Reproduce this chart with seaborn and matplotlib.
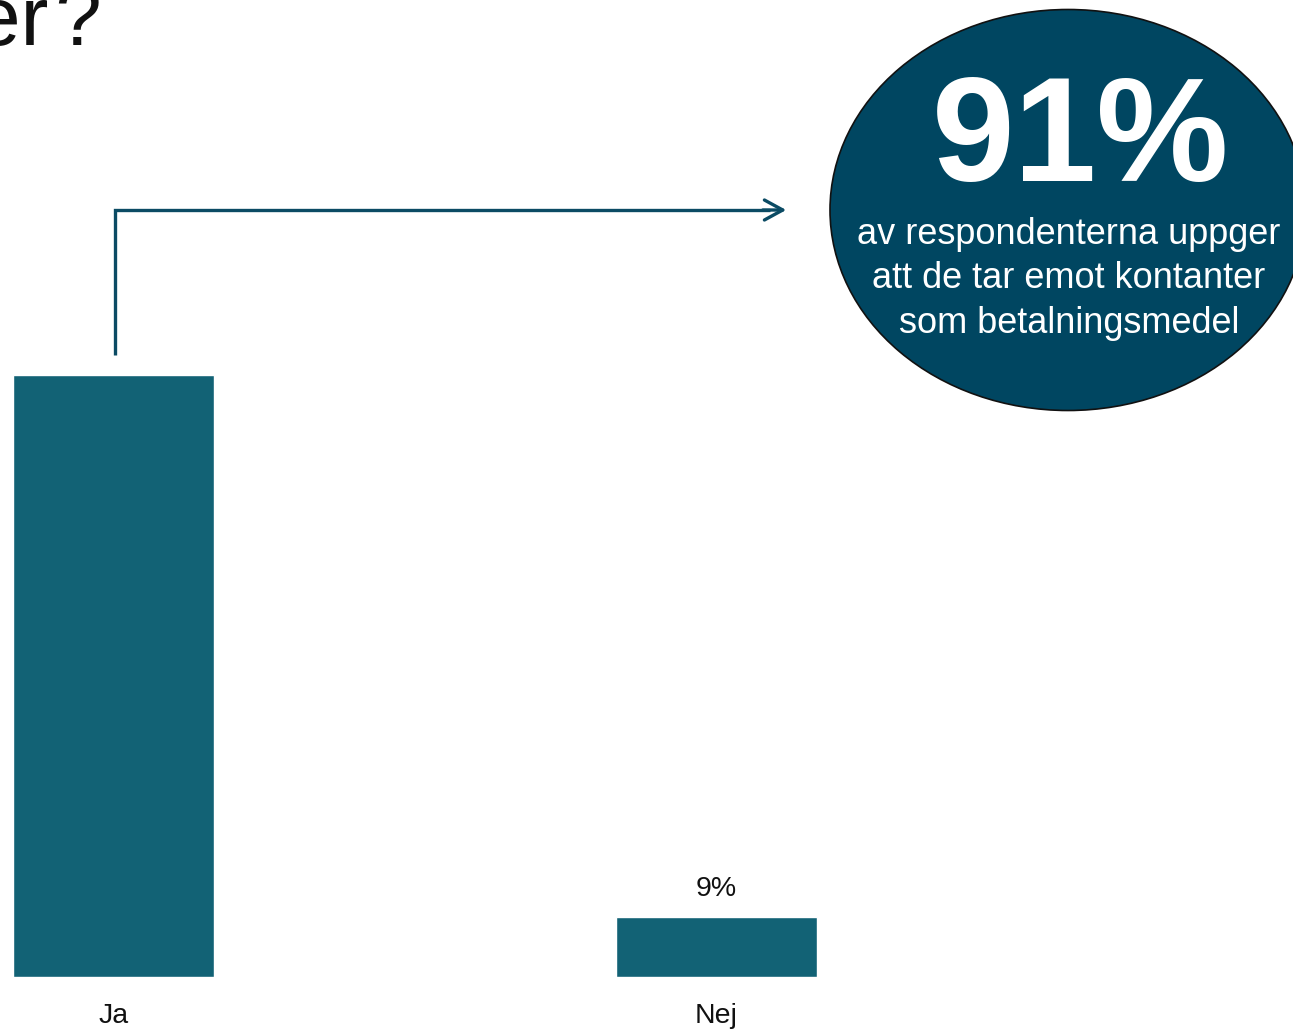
import matplotlib
matplotlib.use("Agg")
import matplotlib.pyplot as plt
import seaborn as sns
from matplotlib.patches import Ellipse

# data
categories = ["Ja", "Nej"]
values = [91, 9]
bar_labels = ["", "9%"]
headline = "91%"
callout_text = "av respondenterna uppger\natt de tar emot kontanter\nsom betalningsmedel"
title_tail = "kontanter\u200a?"

BAR_COLOR = "#126275"
DARK = "#004661"
ARROW = "#0b4b64"

W, H = 1293, 1031

sns.set_theme(style="white")
plt.rcParams["font.family"] = ["Liberation Sans", "DejaVu Sans"]

fig = plt.figure(figsize=(W / 100, H / 100), dpi=100)

# bar axes, positioned so category 0 sits at x=113.5 px, baseline at y=977 px
px_per_cat = 603.0
x0 = -113.5 / px_per_cat
x1 = (W - 113.5) / px_per_cat
bottom = (H - 977) / H
height = 100 * 6.615 / H
ax = fig.add_axes([0, bottom, 1, height])
sns.barplot(x=categories, y=values, color=BAR_COLOR, saturation=1,
            width=0.333, ax=ax)
ax.set_xlim(x0, x1)
ax.set_ylim(0, 100)
ax.set_xlabel("")
ax.set_ylabel("")
ax.set_yticks([])
for s in ax.spines.values():
    s.set_visible(False)
ax.tick_params(axis="x", length=0, pad=19, labelsize=20.5, labelcolor="#111111")
ax.set_facecolor("none")
ax.bar_label(ax.containers[0], labels=bar_labels, padding=11, fontsize=20.5,
             color="#111111")

# overlay in pixel coordinates for the annotations
ov = fig.add_axes([0, 0, 1, 1], zorder=5)
ov.set_xlim(0, W)
ov.set_ylim(H, 0)
ov.axis("off")
ov.patch.set_alpha(0)

# cut-off title at the top left
ov.text(102, 45, title_tail, ha="right", va="baseline", fontsize=60,
        color="#111111")

# connector arrow from the Ja bar to the callout
ov.plot([115, 115, 770], [355, 210, 210], color=ARROW, lw=2.4,
        solid_joinstyle="miter", solid_capstyle="butt")
ov.annotate("", xy=(789, 210), xytext=(760, 210),
            arrowprops=dict(arrowstyle="->,head_length=1.1,head_width=0.6",
                            color=ARROW, lw=2.4))

# callout ellipse
ov.add_patch(Ellipse((1068, 210), 476, 401, facecolor=DARK,
                     edgecolor="#111111", lw=1.2, zorder=3))
ov.text(1081, 181, headline, ha="center", va="baseline", fontsize=107,
        fontweight="bold", color="white", zorder=4)
ov.text(1069, 279, callout_text, ha="center", va="center", fontsize=26,
        color="white", linespacing=1.37, zorder=4)

fig.savefig("out.png", dpi=100)
